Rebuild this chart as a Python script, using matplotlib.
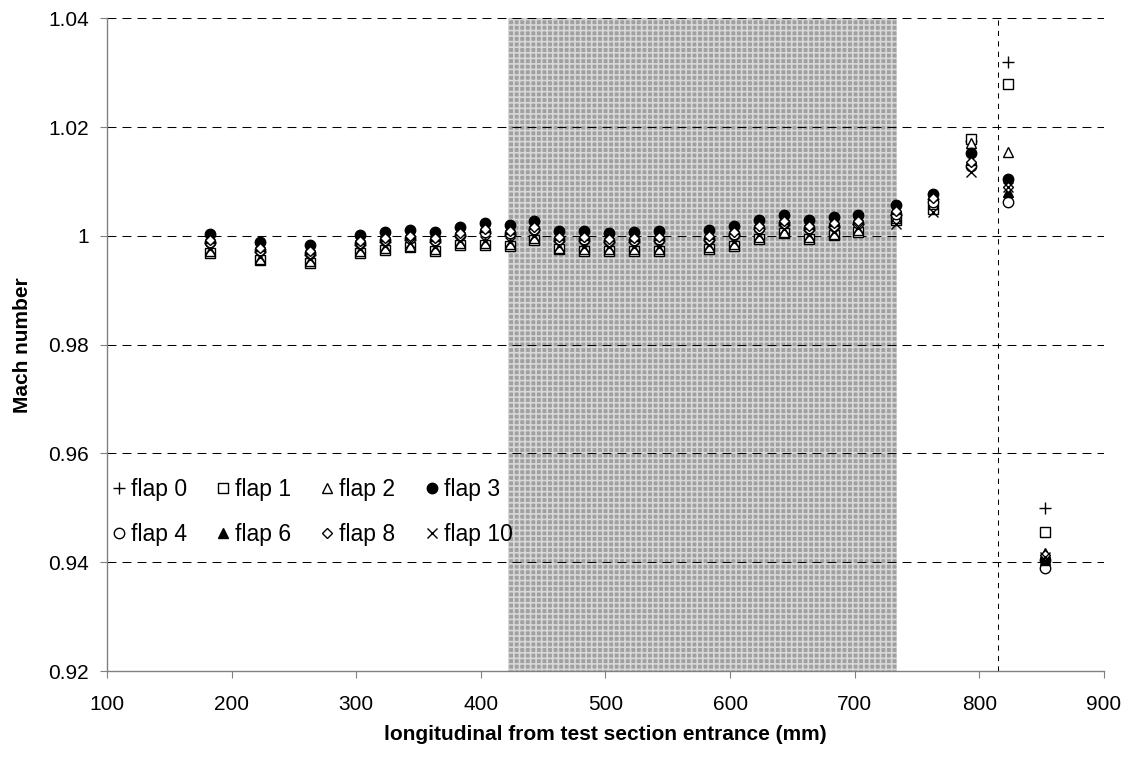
import matplotlib
matplotlib.use("Agg")
import matplotlib.pyplot as plt

plt.rcParams['font.family'] = ['Liberation Sans', 'DejaVu Sans']
plt.rcParams['hatch.linewidth'] = 1.2

# measurement stations (mm from test section entrance)
x = [183, 223, 263, 303, 323, 343, 363, 383, 403, 423, 443, 463, 483, 503,
     523, 543, 583, 603, 623, 643, 663, 683, 703, 733, 763, 793, 823, 853]

flap0 = [0.9986, 0.9971, 0.9965, 0.9983, 0.9989, 0.9993, 0.9989, 0.9999, 1.0005, 1.0002,
         1.0010, 0.9991, 0.9991, 0.9988, 0.9989, 0.9991, 0.9992, 1.0001, 1.0012, 1.0020,
         1.0011, 1.0016, 1.0021, 1.0038, 1.0068, 1.0175, 1.0320, 0.9500]
flap1 = [0.9969, 0.9955, 0.9950, 0.9969, 0.9974, 0.9979, 0.9972, 0.9984, 0.9984, 0.9982,
         0.9993, 0.9975, 0.9972, 0.9973, 0.9973, 0.9973, 0.9976, 0.9982, 0.9995, 1.0005,
         0.9995, 1.0001, 1.0008, 1.0030, 1.0050, 1.0178, 1.0280, 0.9455]
flap2 = [0.9972, 0.9958, 0.9953, 0.9972, 0.9977, 0.9982, 0.9975, 0.9987, 0.9987, 0.9985,
         0.9996, 0.9978, 0.9975, 0.9976, 0.9976, 0.9976, 0.9979, 0.9985, 0.9998, 1.0008,
         0.9998, 1.0004, 1.0011, 1.0033, 1.0058, 1.0170, 1.0155, 0.9417]
flap3 = [1.0004, 0.9989, 0.9983, 1.0001, 1.0007, 1.0011, 1.0007, 1.0017, 1.0023, 1.0020,
         1.0028, 1.0009, 1.0009, 1.0006, 1.0007, 1.0009, 1.0010, 1.0019, 1.0030, 1.0038,
         1.0029, 1.0034, 1.0039, 1.0056, 1.0077, 1.0153, 1.0105, 0.9405]
flap4 = [0.9989, 0.9974, 0.9968, 0.9986, 0.9992, 0.9996, 0.9992, 1.0002, 1.0008, 1.0005,
         1.0013, 0.9994, 0.9994, 0.9991, 0.9992, 0.9994, 0.9995, 1.0004, 1.0015, 1.0023,
         1.0014, 1.0019, 1.0024, 1.0041, 1.0062, 1.0128, 1.0063, 0.9390]
flap6 = [0.9997, 0.9982, 0.9976, 0.9994, 1.0000, 1.0004, 1.0000, 1.0010, 1.0016, 1.0013,
         1.0021, 1.0002, 1.0002, 0.9999, 1.0000, 1.0002, 1.0003, 1.0012, 1.0023, 1.0031,
         1.0022, 1.0027, 1.0032, 1.0049, 1.0075, 1.0140, 1.0080, 0.9405]
flap8 = [0.9993, 0.9978, 0.9972, 0.9990, 0.9996, 1.0000, 0.9996, 1.0006, 1.0012, 1.0009,
         1.0017, 0.9998, 0.9998, 0.9995, 0.9996, 0.9998, 0.9999, 1.0008, 1.0019, 1.0027,
         1.0018, 1.0023, 1.0028, 1.0045, 1.0070, 1.0135, 1.0090, 0.9413]
flap10 = [0.9976, 0.9962, 0.9957, 0.9976, 0.9981, 0.9986, 0.9979, 0.9991, 0.9991, 0.9989,
          1.0000, 0.9982, 0.9979, 0.9980, 0.9980, 0.9980, 0.9983, 0.9989, 1.0002, 1.0012,
          1.0002, 1.0008, 1.0015, 1.0022, 1.0043, 1.0117, 1.0090, 0.9410]

shade_start, shade_end = 422, 734
vline_x = 815

fig = plt.figure(figsize=(11.29, 7.57), dpi=100)
ax = fig.add_axes([0.0948, 0.1136, 0.883, 0.8622])

ax.axvspan(shade_start, shade_end, facecolor='#a0a0a0', edgecolor='#d8d8d8',
           hatch='+++', linewidth=0, zorder=0)

for yv in [0.94, 0.96, 0.98, 1.00, 1.02, 1.04]:
    ax.axhline(yv, color='black', linestyle=(0, (8.6, 5.8)), linewidth=0.75, zorder=1)
ax.axvline(vline_x, color='black', linestyle=(0, (5, 5)), linewidth=0.75, zorder=1)

series = [
    (flap0, dict(marker='+', color='black', markersize=8, markeredgewidth=1.0), 'flap 0'),
    (flap1, dict(marker='s', markerfacecolor='white', markeredgecolor='black',
                 markersize=6.5, markeredgewidth=1.0), 'flap 1'),
    (flap2, dict(marker='^', markerfacecolor='white', markeredgecolor='black',
                 markersize=7, markeredgewidth=1.0), 'flap 2'),
    (flap3, dict(marker='o', markerfacecolor='black', markeredgecolor='black', markersize=7.5), 'flap 3'),
    (flap4, dict(marker='o', markerfacecolor='white', markeredgecolor='black',
                 markersize=7.5, markeredgewidth=1.0), 'flap 4'),
    (flap6, dict(marker='^', markerfacecolor='black', markeredgecolor='black', markersize=7.5), 'flap 6'),
    (flap8, dict(marker='D', markerfacecolor='white', markeredgecolor='black',
                 markersize=5.5, markeredgewidth=1.0), 'flap 8'),
    (flap10, dict(marker='x', color='black', markersize=7, markeredgewidth=1.0), 'flap 10'),
]
handles = {}
for vals, style, lab in series:
    h, = ax.plot(x, vals, linestyle='none', label=lab, zorder=3, **style)
    handles[lab] = h

ax.set_xlim(100, 900)
ax.set_ylim(0.92, 1.04)
ax.set_xticks(range(100, 901, 100))
ax.set_yticks([0.92, 0.94, 0.96, 0.98, 1.00, 1.02, 1.04])
ax.set_yticklabels(['0.92', '0.94', '0.96', '0.98', '1', '1.02', '1.04'])
ax.tick_params(axis='both', labelsize=15, direction='out', length=5, color='#808080')
ax.tick_params(axis='x', pad=12)
ax.tick_params(axis='y', pad=8)

for side in ['top', 'right']:
    ax.spines[side].set_visible(False)
for side in ['left', 'bottom']:
    ax.spines[side].set_color('#808080')
    ax.spines[side].set_linewidth(1.0)

ax.set_xlabel('longitudinal from test section entrance (mm)', fontsize=15,
              fontweight='bold', labelpad=8)
ax.set_ylabel('Mach number', fontsize=15, fontweight='bold', labelpad=12)

# legend reads row-wise in the original: 0 1 2 3 / 4 6 8 10
order = ['flap 0', 'flap 4', 'flap 1', 'flap 6', 'flap 2', 'flap 8', 'flap 3', 'flap 10']
ax.legend([handles[k] for k in order], order, loc='upper left',
          bbox_to_anchor=(0.002, 0.295), ncol=4, frameon=False, fontsize=16.5,
          handletextpad=0.1, columnspacing=1.15, handlelength=0.85,
          labelspacing=0.95, borderaxespad=0, borderpad=0)

fig.savefig('out.png', dpi=100)
